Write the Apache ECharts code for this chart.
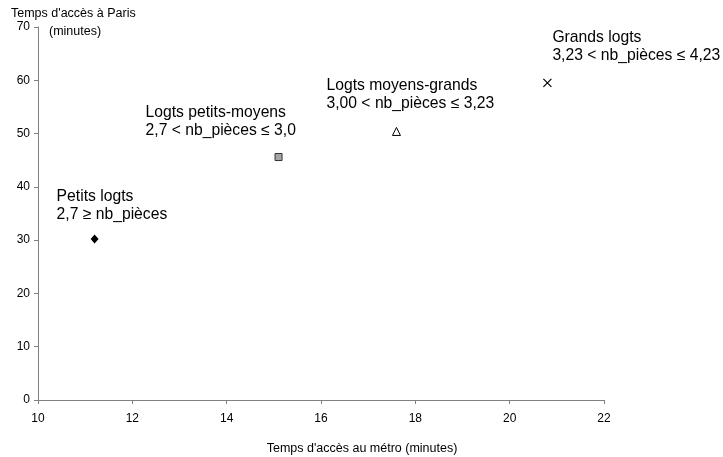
<!DOCTYPE html>
<html>
<head>
<meta charset="utf-8">
<script src="https://cdn.jsdelivr.net/npm/echarts@6/dist/echarts.min.js"></script>
<style>
html,body{margin:0;padding:0;background:#fff;}
#c{width:723px;height:457px;}
</style>
</head>
<body>
<div id="c"></div>
<script>
// Data
var groupNames = ['Petits logts', 'Logts petits-moyens', 'Logts moyens-grands', 'Grands logts'];
var groupRanges = ['2,7 ≥ nb_pièces', '2,7 < nb_pièces ≤ 3,0', '3,00 < nb_pièces ≤ 3,23', '3,23 < nb_pièces ≤ 4,23'];
var metroTimes = [11.2, 15.1, 17.6, 20.8];   // x: temps d'accès au métro (minutes)
var parisTimes = [30.2, 45.6, 50.4, 59.5];   // y: temps d'accès à Paris (minutes)
var xTicks = [10, 12, 14, 16, 18, 20, 22];
var yTicks = [0, 10, 20, 30, 40, 50, 60, 70];
var xTitle = "Temps d'accès au métro (minutes)";
var yTitle1 = "Temps d'accès à Paris";
var yTitle2 = '(minutes)';

var FONT = 'Liberation Sans, Arial, sans-serif';
var symbols = [
  { symbol: 'diamond', size: [8, 9], style: { color: '#000', borderColor: '#000', borderWidth: 0 } },
  { symbol: 'rect', size: 7, style: { color: '#a6a6a6', borderColor: '#333', borderWidth: 1 } },
  { symbol: 'triangle', size: 8, style: { color: '#fff', borderColor: '#000', borderWidth: 1 } },
  { symbol: 'path://M0,0L10,10M10,0L0,10', size: 8, style: { color: 'none', borderColor: '#000', borderWidth: 1.2 } }
];
var labelOffsets = [[-38, -10.5], [-133, -13.5], [-70, -14.5], [5, -11.5]];

var series = groupNames.map(function (name, i) {
  return {
    type: 'scatter',
    name: name,
    data: [[metroTimes[i], parisTimes[i]]],
    symbol: symbols[i].symbol,
    symbolSize: symbols[i].size,
    itemStyle: Object.assign({ opacity: 1 }, symbols[i].style),
    label: {
      show: true,
      position: 'top',
      distance: 0,
      align: 'left',
      verticalAlign: 'bottom',
      offset: labelOffsets[i],
      fontFamily: FONT,
      fontSize: 15.7,
      lineHeight: 18,
      color: '#000',
      formatter: function () { return groupNames[i] + '\n' + groupRanges[i]; }
    },
    emphasis: { disabled: true },
    silent: true
  };
});

var chart = echarts.init(document.getElementById('c'), null, { renderer: 'canvas' });
chart.setOption({
  animation: false,
  backgroundColor: '#fff',
  grid: { left: 38, right: 119, top: 27, bottom: 57, containLabel: false },
  xAxis: {
    type: 'value',
    min: xTicks[0], max: xTicks[xTicks.length - 1], interval: 2,
    axisLine: { show: true, lineStyle: { color: '#808080', width: 1 } },
    axisTick: { show: true, length: 4, lineStyle: { color: '#808080' } },
    axisLabel: { fontFamily: FONT, fontSize: 12, color: '#000', margin: 13 },
    splitLine: { show: false }
  },
  yAxis: {
    type: 'value',
    min: yTicks[0], max: yTicks[yTicks.length - 1], interval: 10,
    axisLine: { show: true, lineStyle: { color: '#808080', width: 1 } },
    axisTick: { show: true, length: 4, lineStyle: { color: '#808080' } },
    axisLabel: { fontFamily: FONT, fontSize: 12, color: '#000', margin: 8 },
    splitLine: { show: false }
  },
  graphic: [
    { type: 'text', left: 11, top: 7, style: { text: yTitle1, font: '12.5px ' + FONT, fill: '#000' } },
    { type: 'text', left: 49, top: 25, style: { text: yTitle2, font: '12.5px ' + FONT, fill: '#000' } },
    { type: 'text', x: 362, y: 449, style: { text: xTitle, font: '12.5px ' + FONT, fill: '#000', align: 'center', verticalAlign: 'middle' } }
  ],
  series: series
});
</script>
</body>
</html>
